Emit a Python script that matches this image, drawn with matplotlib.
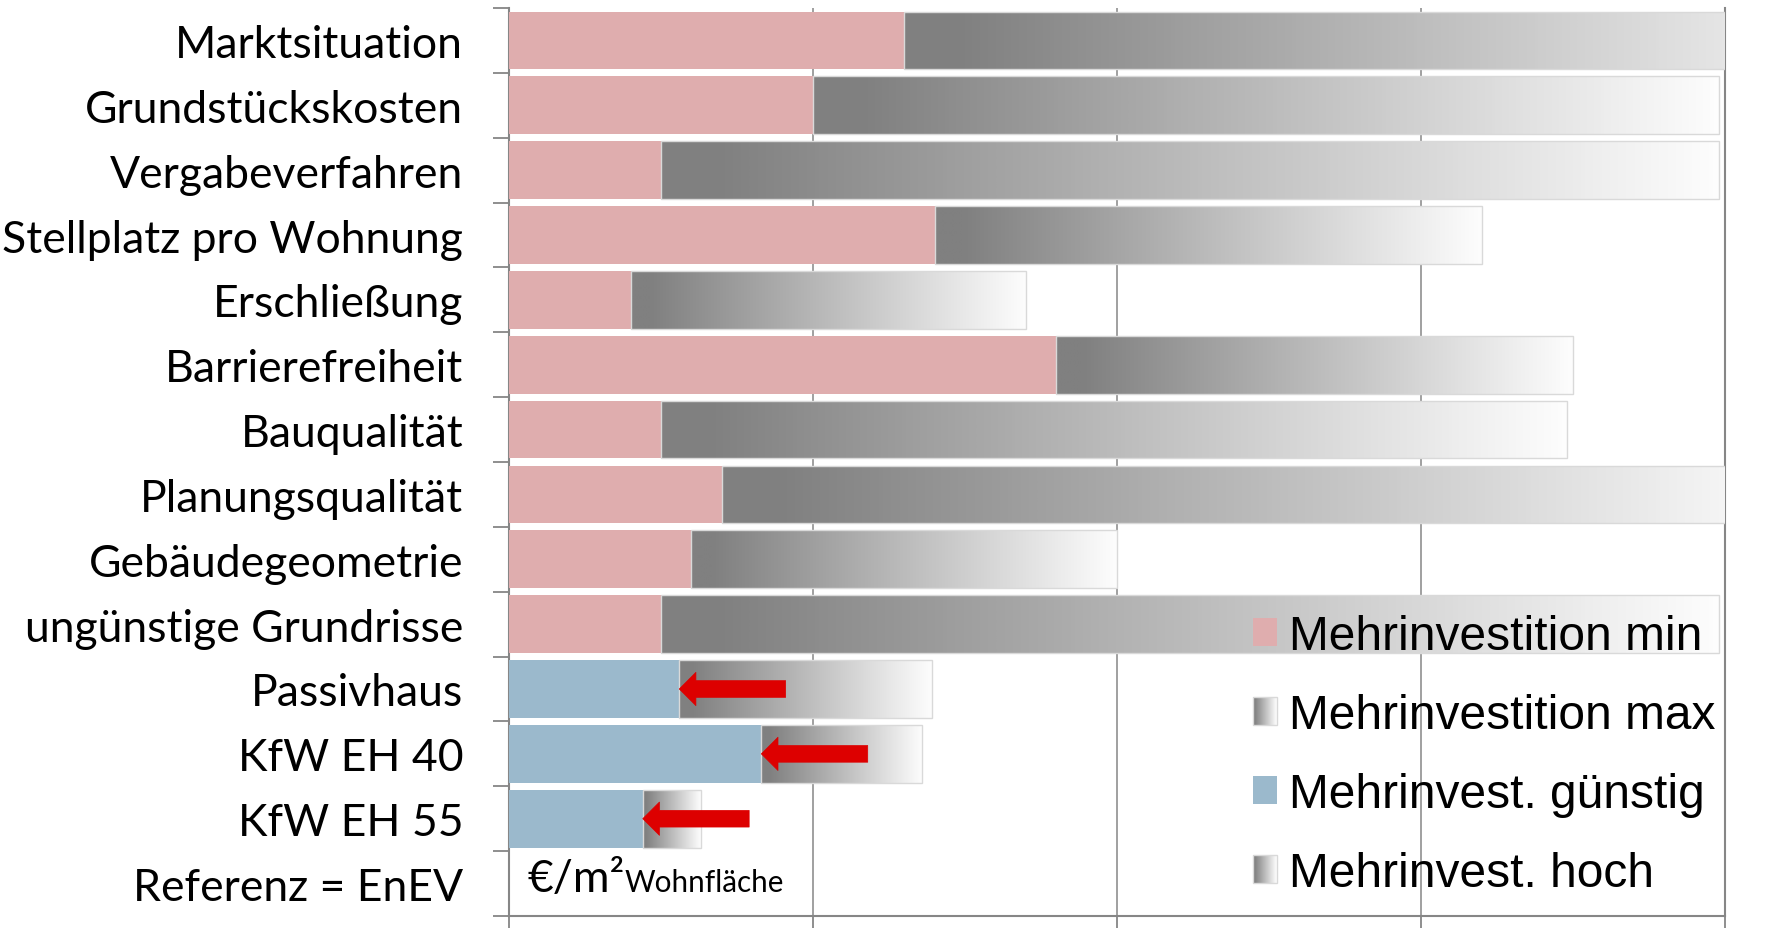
import numpy as np
import matplotlib
matplotlib.use("Agg")
from matplotlib import pyplot as plt
from matplotlib.patches import Patch, Rectangle
from matplotlib.colors import LinearSegmentedColormap
from matplotlib.legend_handler import HandlerBase

# Mehrkosten je Einflussfaktor, in €/m² Wohnfläche
categories = [
    "Marktsituation", "Grundstückskosten", "Vergabeverfahren",
    "Stellplatz pro Wohnung", "Erschließung", "Barrierefreiheit",
    "Bauqualität", "Planungsqualität", "Gebäudegeometrie",
    "ungünstige Grundrisse", "Passivhaus", "KfW EH 40", "KfW EH 55",
    "Referenz = EnEV",
]
invest_min = [130, 100, 50, 140, 40, 180, 50, 70, 60, 50]
invest_max = [460, 398, 398, 320, 170, 350, 348, 423, 200, 398]
invest_guenstig = [56, 83, 44]
invest_hoch = [139, 136, 63]

PINK = "#dfadae"
BLUE = "#9bb9cc"
AXIS_GRAY = "#868686"
EDGE = "#d9d9d9"
RED = "#dd0000"

grey_fade = LinearSegmentedColormap.from_list(
    "grey_fade", [(0.0, "#808080"), (0.05, "#808080"), (1.0, "#fdfdfd")])


class GradientKey:
    pass


class HandlerGradient(HandlerBase):
    def create_artists(self, legend, orig_handle, xdescent, ydescent,
                       width, height, fontsize, trans):
        n = 24
        x0, y0 = -xdescent, -ydescent
        arts = []
        for i in range(n):
            r = Rectangle((x0 + i * width / n, y0), width / n * 1.05, height,
                          facecolor=grey_fade(i / (n - 1)), edgecolor="none",
                          transform=trans)
            arts.append(r)
        arts.append(Rectangle((x0, y0), width, height, facecolor="none",
                              edgecolor=EDGE, lw=1, transform=trans))
        return arts


fig = plt.figure(figsize=(17.67, 9.29), dpi=100)
ax = fig.add_axes([509 / 1767, 12 / 929, 1216 / 1767, 908 / 929])

y = np.arange(len(categories))
n_min = len(invest_min)
y_min = y[:n_min]
y_eff = y[n_min:n_min + len(invest_guenstig)]
bar_h = 0.89

# untere Werte
ax.barh(y_min, invest_min, height=bar_h, color=PINK, zorder=3)
ax.barh(y_eff, invest_guenstig, height=bar_h, color=BLUE, zorder=3)

# obere Werte als Verlauf grau -> weiß
span_min = np.array(invest_max) - np.array(invest_min)
span_eff = np.array(invest_hoch) - np.array(invest_guenstig)
grad_bars = list(ax.barh(y_min, span_min, left=invest_min, height=bar_h,
                         facecolor="none", edgecolor=EDGE, lw=1, zorder=4))
grad_bars += list(ax.barh(y_eff, span_eff, left=invest_guenstig, height=bar_h,
                          facecolor="none", edgecolor=EDGE, lw=1, zorder=4))
ramp = np.linspace(0, 1, 256)[None, :]
for bar in grad_bars:
    x0, w = bar.get_x(), bar.get_width()
    y0, h = bar.get_y(), bar.get_height()
    im = ax.imshow(ramp, cmap=grey_fade, vmin=0, vmax=1, aspect="auto",
                   extent=[x0, x0 + w, y0 + h, y0], interpolation="bilinear",
                   zorder=3)
    # als Pfad übergeben, damit der Achsen-Clip erhalten bleibt
    im.set_clip_path(bar.get_path(), bar.get_transform())

# rote Pfeile: Verschiebung zum günstigeren Wert
for yy, g in zip(y_eff, invest_guenstig):
    ax.annotate("", xy=(g, yy), xytext=(g + 35, yy),
                arrowprops=dict(arrowstyle="simple,head_length=12,head_width=24,tail_width=12",
                                mutation_scale=1, color=RED, lw=0.5,
                                shrinkA=0, shrinkB=0),
                zorder=6)

ax.set_xlim(0, 400)
ax.set_ylim(len(categories) - 0.5, -0.5)

ax.set_yticks(y)
ax.set_yticklabels(categories, family="Lato", fontsize=32)
ax.set_yticks(np.arange(len(categories) + 1) - 0.5, minor=True)
ax.tick_params(axis="y", which="major", length=0, pad=33)
ax.tick_params(axis="y", which="minor", length=11.5, width=1.3, color=AXIS_GRAY)
ax.set_xticks([0, 100, 200, 300, 400])
ax.tick_params(axis="x", length=9, width=1.3, color=AXIS_GRAY, labelbottom=False)
ax.set_axisbelow(True)
ax.grid(axis="x", color=AXIS_GRAY, lw=1.1)

for side in ["left", "bottom", "right"]:
    ax.spines[side].set_color(AXIS_GRAY)
    ax.spines[side].set_linewidth(1.5)
ax.spines["top"].set_visible(False)

# Einheit
unit = ax.text(6, 13.12, "€/m²", family="Lato", fontsize=32, va="baseline")
ax.annotate("Wohnfläche", xy=(1.0, 13.12), xycoords=(unit, "data"),
            family="Lato", fontsize=21.3, va="baseline")

handles = [Patch(facecolor=PINK), GradientKey(), Patch(facecolor=BLUE), GradientKey()]
labels = ["Mehrinvestition min", "Mehrinvestition max",
          "Mehrinvest. günstig", "Mehrinvest. hoch"]
fig.legend(handles, labels, handler_map={GradientKey: HandlerGradient()},
           loc="upper left", bbox_to_anchor=(1253 / 1767, 1 - 615 / 929),
           frameon=False, borderpad=0, borderaxespad=0,
           handlelength=0.5, handleheight=0.5, handletextpad=0.25,
           labelspacing=0.71, prop={"family": "Liberation Sans", "size": 34.5})

fig.savefig("out.png", dpi=100)
